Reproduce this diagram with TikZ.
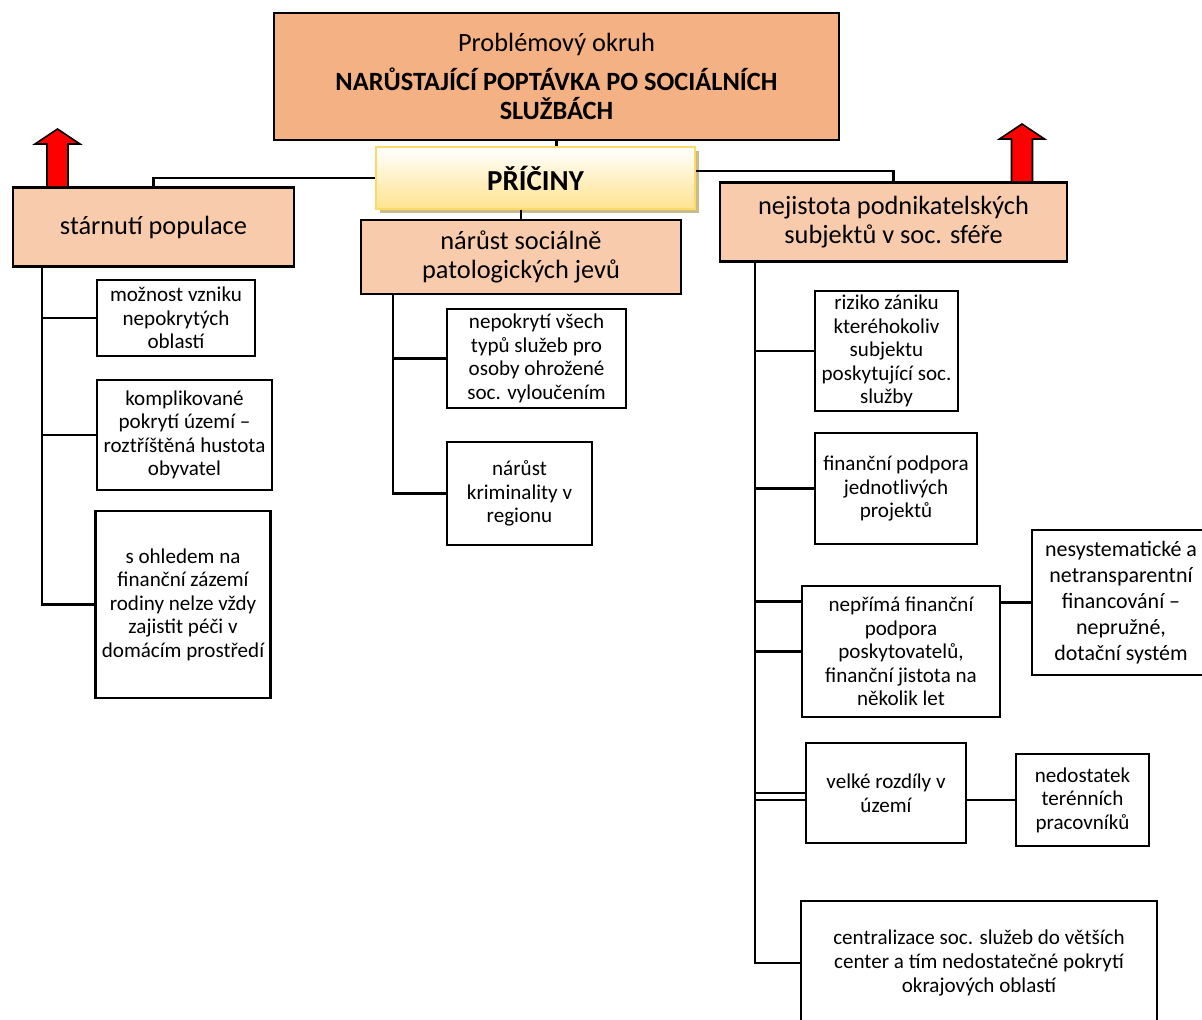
\documentclass[tikz,border=0pt]{standalone}
\usepackage{fontspec}
\setmainfont{Carlito}
\usepackage{tikz}
\usetikzlibrary{calc, shadows}
\definecolor{titleorange}{HTML}{F4B183}
\definecolor{causepeach}{HTML}{F8CBAD}
\definecolor{goldline}{HTML}{FFD966}
\definecolor{goldfill}{HTML}{FFE38F}
\definecolor{shadowtan}{HTML}{C8BB8C}
\tikzstyle{topbox}  = [draw=black, line width=1.5pt, fill=titleorange, align=center, font=\fontsize{15}{16.5}\selectfont]
\tikzstyle{cause}   = [draw=black, line width=1.5pt, fill=causepeach, align=center, font=\fontsize{15}{16.5}\selectfont]
\tikzstyle{item}    = [draw=black, line width=1.5pt, fill=white, align=center, inner sep=2pt, font=\fontsize{12}{13.4}\selectfont]
\tikzstyle{link}    = [line width=1.5pt]
\tikzstyle{uparrow} = [fill=red, draw=black, line width=0.9pt, line join=miter]

\begin{document}
\begin{tikzpicture}[x=0.02cm, y=-0.02cm]
  \clip (0,0) rectangle (1202,1019);
  % root and the three causes
  \node[topbox, minimum width=11.3cm, minimum height=2.54cm] (problem) at (556.5,76.5)
    {Problémový okruh\\[5.5pt]\textbf{NARŮSTAJÍCÍ POPTÁVKA PO SOCIÁLNÍCH}\\\textbf{SLUŽBÁCH}};
  \node[draw=goldline, line width=1.5pt, top color=white, bottom color=goldfill,
        drop shadow={shadow xshift=0.08cm, shadow yshift=-0.08cm, opacity=1, fill=shadowtan},
        minimum width=6.38cm, minimum height=1.24cm, font=\fontsize{16.5}{18}\selectfont\bfseries] (priciny) at (535.5,178) {PŘÍČINY};
  \node[cause, minimum width=5.62cm, minimum height=1.58cm] (starnuti) at (153.5,227) {stárnutí populace};
  \node[cause, minimum width=6.4cm, minimum height=1.48cm] (narust) at (521,257) {nárůst sociálně\\patologických jevů};
  \node[cause, minimum width=6.94cm, minimum height=1.58cm] (nejistota) at (893.5,222) {nejistota podnikatelských\\subjektů v soc. sféře};

  % left branch
  \node[item, minimum width=3.16cm, minimum height=1.52cm] (moznost) at (176,318) {možnost vzniku\\nepokrytých\\oblastí};
  \node[item, minimum width=3.5cm, minimum height=2.2cm] (komplik) at (184.5,435) {komplikované\\pokrytí území –\\roztříštěná hustota\\obyvatel};
  \node[item, minimum width=3.5cm, minimum height=3.74cm] (zazemi) at (183,604.5) {s ohledem na\\finanční zázemí\\rodiny nelze vždy\\zajistit péči v\\domácím prostředí};

  % middle branch
  \node[item, minimum width=3.58cm, minimum height=1.98cm] (nepokryti) at (536.5,358.5) {nepokrytí všech\\typů služeb pro\\osoby ohrožené\\soc. vyloučením};
  \node[item, minimum width=2.9cm, minimum height=2.06cm] (kriminalita) at (519.5,493.5) {nárůst\\kriminality v\\regionu};

  % right branch
  \node[item, minimum width=2.86cm, minimum height=2.4cm] (riziko) at (886.5,351) {riziko zániku\\kteréhokoliv\\subjektu\\poskytující soc.\\služby};
  \node[item, minimum width=3.24cm, minimum height=2.22cm] (projekty) at (896,488.5) {finanční podpora\\jednotlivých\\projektů};
  \node[item, minimum width=3.96cm, minimum height=2.62cm] (neprima) at (901,651.5) {nepřímá finanční\\podpora\\poskytovatelů,\\finanční jistota na\\několik let};
  \node[item, minimum width=3.56cm, minimum height=2.9cm, font=\fontsize{12.5}{14.8}\selectfont] (dotace) at (1121,602.5) {nesystematické a\\netransparentní\\financování –\\nepružné,\\dotační systém};
  \node[item, minimum width=3.2cm, minimum height=2.0cm] (rozdily) at (886,793) {velké rozdíly v\\území};
  \node[item, minimum width=2.66cm, minimum height=1.84cm] (terenni) at (1082.5,800) {nedostatek\\terénních\\pracovníků};
  \node[item, minimum width=7.12cm, minimum height=2.48cm] (centra) at (979,963) {centralizace soc. služeb do větších\\center a tím nedostatečné pokrytí\\okrajových oblastí};

  % buses
  \coordinate (lbus) at (42,0);
  \coordinate (mbus) at (393,0);
  \coordinate (rbus) at (755,0);

  \draw[link] (problem.south) -- (problem.south |- priciny.north);
  \draw[link] (narust.north) -- (narust.north |- priciny.south);
  \draw[link] (priciny.west) -| (starnuti.north);
  \draw[link] ($(priciny.east)+(0,-7)$) -| (nejistota.north);

  \draw[link] (lbus |- starnuti.south) |- (zazemi.west);
  \foreach \n in {moznost, komplik}
    \draw[link] (lbus |- \n.west) -- (\n.west);

  \draw[link] (mbus |- narust.south) |- (kriminalita.west);
  \draw[link] (mbus |- nepokryti.west) -- (nepokryti.west);

  \draw[link] (rbus |- nejistota.south) |- (centra.west);
  \foreach \n in {riziko, projekty, neprima, rozdily}
    \draw[link] (rbus |- \n.west) -- (\n.west);
  \draw[link] ($(rbus |- neprima.west)+(0,-50)$) -- ($(neprima.west)+(0,-50)$);
  \draw[link] ($(rbus |- rozdily.west)+(0,7)$) -- ($(rozdily.west)+(0,7)$);
  \draw[link] (rozdily.east |- terenni.west) -- (terenni.west);
  \draw[link] (neprima.east |- dotace.west) -- (dotace.west);

  % red arrows on top of the outer causes
  \foreach \ax/\ay in {57.5/186, 1022/181}
    \draw[uparrow] (\ax-10.5,\ay) -- (\ax-10.5,\ay-42) -- (\ax-22.5,\ay-42) -- (\ax,\ay-57)
      -- (\ax+22.5,\ay-42) -- (\ax+10.5,\ay-42) -- (\ax+10.5,\ay);
\end{tikzpicture}
\end{document}
